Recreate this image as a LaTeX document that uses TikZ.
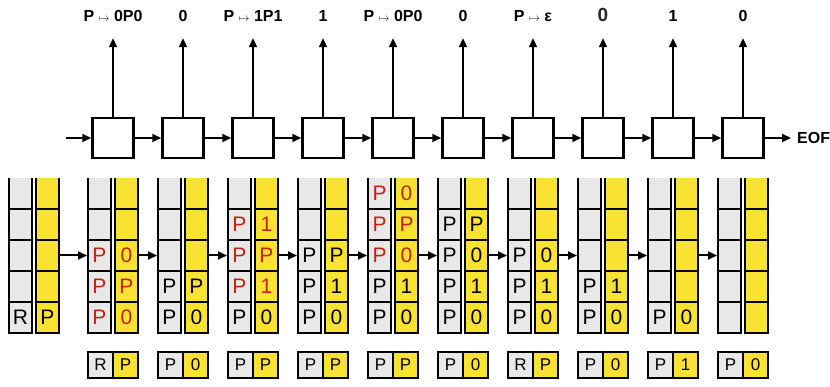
\documentclass[tikz,border=0pt]{standalone}
\usepackage{fontspec}
\setmainfont{Liberation Sans}
\usepackage{xcolor}
\usetikzlibrary{arrows.meta}
\definecolor{cellgray}{HTML}{E8E8E8}
\definecolor{cellyellow}{HTML}{F9E232}
\definecolor{symred}{HTML}{C4220E}
\newcommand{\rd}[1]{\textcolor{symred}{#1}}
\newcommand{\maps}{{\fontsize{11}{11}\selectfont$\mapsto$}}
% one column of five cells, listed from the bottom
\newcommand{\stackcol}[4]{%
  \foreach \t [count=\k] in {#4} {
    \node[cell, #2] (#1-\k) at ({#3}, {333-(\k-0.5)*31}) {\t};
  }
  \draw[edge] (#1-5.north west) |- (#1-1.south east) -- (#1-5.north east);
  \foreach \k in {1,...,4} {
    \draw[edge] (#1-\k.north west) -- (#1-\k.north east);
  }
}
\newcommand{\stackpair}[4]{%
  \stackcol{#1g}{gcell}{#2-13.5}{#3}%
  \stackcol{#1y}{ycell}{#2+13.5}{#4}%
}

\begin{document}
\begin{tikzpicture}[
  x=1pt, y=-1pt,
  proc/.style={draw, line width=2.5pt, minimum width=41pt, minimum height=40pt, inner sep=0},
  lbl/.style={font=\fontsize{16}{16}\selectfont\bfseries, inner sep=0, text height=12pt, text depth=0pt},
  cell/.style={minimum width=23pt, minimum height=31pt, inner sep=0, outer sep=0, font=\fontsize{21}{21}\selectfont},
  gcell/.style={fill=cellgray},
  ycell/.style={fill=cellyellow},
  edge/.style={line width=2pt},
  tosg/.style={draw, fill=cellgray, line width=2pt, minimum width=25pt, minimum height=26pt, inner sep=0, font=\fontsize{17}{17}\selectfont},
  tosy/.style={tosg, fill=cellyellow},
  arr/.style={-{Triangle[length=9pt, width=8pt]}, line width=2pt}
]
  \useasboundingbox (0,0) rectangle (830,387);

  % Chain of steps
  \foreach \i in {1,...,10} {
    \node[proc] (b\i) at ({113+70*(\i-1)}, 138) {};
  }
  \coordinate (in) at (66,138);
  \draw[arr] (in) -- (b1);
  \foreach \i [evaluate=\i as \j using int(\i+1)] in {1,...,9} {
    \draw[arr] (b\i) -- (b\j);
  }
  \node[lbl, anchor=west] (eof) at (797,138) {EOF};
  \draw[arr, shorten >=6pt] (b10) -- (eof);

  % Output of each step
  \node[lbl] (l1) at (113,16) {P \maps{} 0P0};
  \node[lbl] (l2) at (183,16) {0};
  \node[lbl] (l3) at (253,16) {P \maps{} 1P1};
  \node[lbl] (l4) at (323,16) {1};
  \node[lbl] (l5) at (393,16) {P \maps{} 0P0};
  \node[lbl] (l6) at (463,16) {0};
  \node[lbl] (l7) at (533,16) {P \maps{} ε};
  \node[lbl, font=\fontsize{19}{19}\selectfont\bfseries, text=black!85] (l8) at (603,16) {0};
  \node[lbl] (l9) at (673,16) {1};
  \node[lbl] (l10) at (743,16) {0};
  \foreach \i in {1,...,10} {
    \draw[arr, shorten >=16pt] (b\i) -- (l\i);
  }

  % Stacks
  \stackpair{s0}{34}{R,{},{},{},{}}{P,{},{},{},{}}
  \stackpair{s1}{113}{\rd{P},\rd{P},\rd{P},{},{}}{\rd{0},\rd{P},\rd{0},{},{}}
  \stackpair{s2}{183}{P,P,{},{},{}}{0,P,{},{},{}}
  \stackpair{s3}{253}{P,\rd{P},\rd{P},\rd{P},{}}{0,\rd{1},\rd{P},\rd{1},{}}
  \stackpair{s4}{323}{P,P,P,{},{}}{0,1,P,{},{}}
  \stackpair{s5}{393}{P,P,\rd{P},\rd{P},\rd{P}}{0,1,\rd{0},\rd{P},\rd{0}}
  \stackpair{s6}{463}{P,P,P,P,{}}{0,1,0,P,{}}
  \stackpair{s7}{533}{P,P,P,{},{}}{0,1,0,{},{}}
  \stackpair{s8}{603}{P,P,{},{},{}}{0,1,{},{},{}}
  \stackpair{s9}{673}{P,{},{},{},{}}{0,{},{},{},{}}
  \stackpair{s10}{743}{{},{},{},{},{}}{{},{},{},{},{}}
  \foreach \i [evaluate=\i as \j using int(\i+1)] in {0,...,9} {
    \draw[arr, shorten >=1pt] (s\i y-3.east) -- (s\j g-3.west);
  }

  % Top of stack before each step
  \foreach \i/\a/\b in {1/R/P, 2/P/0, 3/P/P, 4/P/P, 5/P/P, 6/P/0, 7/R/P, 8/P/0, 9/P/1, 10/P/0} {
    \node[tosg] (p\i-g) at ({113+70*(\i-1)-12.5}, 365) {\a};
    \node[tosy] (p\i-y) at ({113+70*(\i-1)+12.5}, 365) {\b};
  }
\end{tikzpicture}
\end{document}
